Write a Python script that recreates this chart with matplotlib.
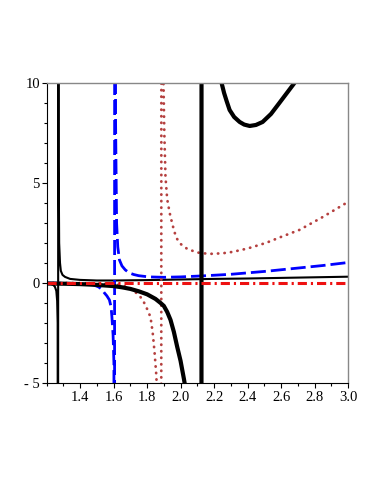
import matplotlib.pyplot as plt
from matplotlib.ticker import MultipleLocator

# values (branches joined where the curve jumps)
thin_x = [1.2, 1.22, 1.24, 1.25, 1.258, 1.263, 1.266, 1.268, 1.270, 1.272, 1.275, 1.28, 1.285,
          1.295, 1.31, 1.34, 1.4, 1.5, 1.6, 1.8, 2.0, 2.2, 2.4, 2.6, 2.8, 3.0]
thin_y = [-0.02, -0.04, -0.1, -0.2, -0.4, -0.9, -2, -40, 40, 6, 2, 1, 0.6,
          0.4, 0.3, 0.2, 0.15, 0.12, 0.12, 0.14, 0.17, 0.2, 0.22, 0.25, 0.28, 0.31]

blue_x = [1.2, 1.3, 1.4, 1.45, 1.48, 1.51, 1.53, 1.545, 1.56, 1.575, 1.585, 1.59, 1.597, 1.602,
          1.605, 1.607, 1.612, 1.618, 1.625, 1.635, 1.65, 1.67, 1.694, 1.72, 1.75, 1.81, 1.9,
          2.0, 2.13, 2.3, 2.51, 2.71, 2.85, 3.0]
blue_y = [-0.01, -0.02, -0.03, -0.06, -0.1, -0.2, -0.32, -0.5, -0.65, -0.85, -1.2, -1.7, -2.6, -4,
          -40, 40, 8, 3, 1.8, 1.15, 0.85, 0.65, 0.5, 0.42, 0.36, 0.3, 0.28,
          0.3, 0.35, 0.43, 0.58, 0.75, 0.87, 1.02]

brown_x = [1.2, 1.4, 1.6, 1.65, 1.7, 1.735, 1.76, 1.78, 1.8, 1.815, 1.825, 1.835, 1.845, 1.855,
           1.865, 1.884, 1.886, 1.893, 1.898, 1.903, 1.91, 1.92, 1.935, 1.945, 1.96, 1.975, 2.0,
           2.04, 2.1, 2.17, 2.25, 2.31, 2.4, 2.51, 2.6, 2.71, 2.85, 3.0]
brown_y = [0, -0.01, -0.05, -0.12, -0.28, -0.5, -0.7, -0.95, -1.3, -1.6, -1.95, -2.6, -3.5, -4.6,
           -6.5, -40, 40, 15, 10, 7.5, 5.3, 4.2, 3.5, 3.15, 2.65, 2.25, 1.95,
           1.7, 1.52, 1.45, 1.48, 1.55, 1.72, 2.0, 2.3, 2.65, 3.3, 4.05]

thick_x = [1.2, 1.3, 1.4, 1.5, 1.6, 1.65, 1.7, 1.75, 1.8, 1.85, 1.88, 1.9, 1.92, 1.94, 1.96, 1.98,
           2.0, 2.02, 2.04, 2.08, 2.124, 2.126, 2.2, 2.23, 2.245, 2.26, 2.275, 2.293, 2.32, 2.353,
           2.38, 2.413, 2.45, 2.49, 2.54, 2.59, 2.635, 2.68, 2.72]
thick_y = [-0.03, -0.04, -0.06, -0.1, -0.16, -0.22, -0.3, -0.42, -0.57, -0.8, -1.0, -1.15, -1.45,
           -1.85, -2.45, -3.2, -3.9, -4.8, -5.8, -9, -60, 60, 15, 11, 10, 9.5, 9.1, 8.65, 8.3, 8.05,
           7.92, 7.85, 7.9, 8.05, 8.45, 9.0, 9.5, 10, 10.5]

zero_x = [1.2, 3.0]
zero_y = [0, 0]

x_ticks = [1.4, 1.6, 1.8, 2.0, 2.2, 2.4, 2.6, 2.8, 3.0]
x_labels = ['1.4', '1.6', '1.8', '2.0', '2.2', '2.4', '2.6', '2.8', '3.0']
y_ticks = [-5, 0, 5, 10]
y_labels = ['- 5', '0', '5', '10']

fig = plt.figure(figsize=(3.82, 4.94), dpi=100)
ax = fig.add_axes([0.122, 0.225, 0.789, 0.607])

ax.plot(thin_x, thin_y, color='black', lw=1.5)
ax.plot(blue_x, blue_y, color='#0000ff', lw=2.0, dashes=(5.4, 1.8))
ax.plot(brown_x, brown_y, color='#b5403f', lw=2.0, linestyle=(0, (0.1, 2.25)),
        dash_capstyle='round')
ax.plot(thick_x, thick_y, color='black', lw=3.0)
ax.plot(zero_x, zero_y, color='#ee1111', lw=2.2, dashes=(3.0, 1.3, 0.7, 1.3))

ax.set_xlim(1.2, 3.0)
ax.set_ylim(-5, 10)

ax.set_xticks(x_ticks)
ax.set_xticklabels(x_labels)
ax.set_yticks(y_ticks)
ax.set_yticklabels(y_labels)
ax.xaxis.set_minor_locator(MultipleLocator(0.1))
ax.yaxis.set_minor_locator(MultipleLocator(1))

for lab in ax.get_xticklabels() + ax.get_yticklabels():
    lab.set_family('Liberation Serif')
    lab.set_fontsize(10.5)

ax.tick_params(which='major', length=3.8, width=0.8, pad=2)
ax.tick_params(which='minor', length=2.4, width=0.8)
ax.tick_params(axis='y', pad=1)
ax.spines['top'].set_color('#888888')
ax.spines['right'].set_color('#888888')
ax.spines['top'].set_linewidth(1.0)
ax.spines['right'].set_linewidth(1.0)

plt.savefig('out.png', dpi=100)
